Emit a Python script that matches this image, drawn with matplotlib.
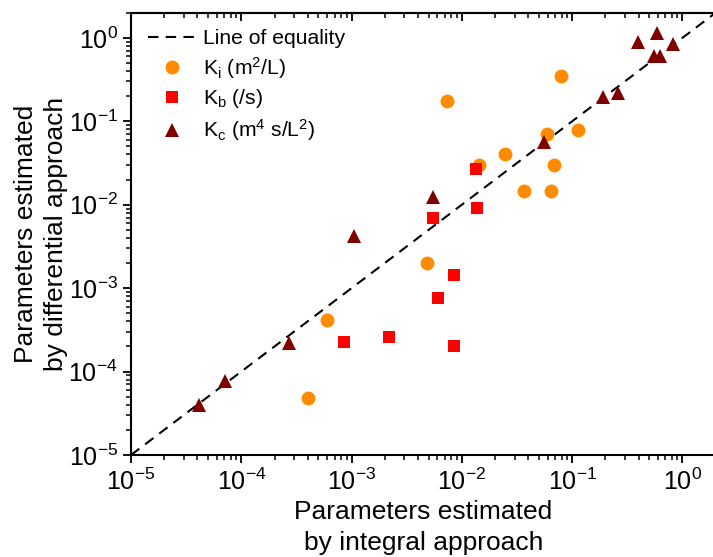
import numpy as np
import matplotlib
matplotlib.use("Agg")
import matplotlib.pyplot as plt
from matplotlib.ticker import LogLocator, NullFormatter

plt.rcParams['font.family'] = ['Liberation Sans', 'DejaVu Sans']
plt.rcParams['mathtext.fontset'] = 'custom'
plt.rcParams['mathtext.rm'] = 'Liberation Sans'
plt.rcParams['mathtext.it'] = 'Liberation Sans:italic'

# Ki (m2/L): integral vs differential estimates
ki_int = [4.0e-4, 6.0e-4, 4.8e-3, 7.4e-3, 0.0144, 0.0247, 0.0366, 0.0594, 0.0647, 0.0689, 0.0787, 0.112]
ki_diff = [4.8e-5, 4.1e-4, 2.0e-3, 0.176, 0.030, 0.0407, 0.0147, 0.0713, 0.0147, 0.0297, 0.348, 0.078]

# Kb (/s)
kb_int = [8.6e-4, 2.2e-3, 8.4e-3, 6.1e-3, 8.4e-3, 5.5e-3, 0.0137, 0.0134]
kb_diff = [2.25e-4, 2.6e-4, 2.0e-4, 7.6e-4, 1.45e-3, 6.9e-3, 9.1e-3, 0.0266]

# Kc (m4 s/L2)
kc_int = [4.1e-5, 7.1e-5, 2.7e-4, 1.06e-3, 5.5e-3, 0.0555, 0.19, 0.26, 0.393, 0.583, 0.826, 0.552, 0.625]
kc_diff = [4.0e-5, 7.7e-5, 2.2e-4, 4.2e-3, 0.0123, 0.0568, 0.197, 0.22, 0.90, 1.13, 0.85, 0.605, 0.60]

lims = [1e-5, 2]

fig = plt.figure(figsize=(7.13, 5.57), dpi=100)
ax = fig.add_axes([131 / 713, 102 / 557, 584.7 / 713, 442.3 / 557])

ax.plot(lims, lims, color='black', lw=1.5, ls=(0, (5, 3.5)), label='Line of equality', zorder=2)
ax.plot(ki_int, ki_diff, ls='none', marker='o', ms=10, mew=0, color='#FF8C00',
        label=r'$\mathregular{K_i\ (m^2/L)}$', zorder=3)
ax.plot(kb_int, kb_diff, ls='none', marker='s', ms=8.5, mew=0, color='#FF0000',
        label=r'$\mathregular{K_b\ (/s)}$', zorder=4)
ax.plot(kc_int, kc_diff, ls='none', marker='^', ms=10.5, mew=0, color='#800000',
        label=r'$\mathregular{K_c\ (m^4\ s/L^2)}$', zorder=5)

ax.set_xscale('log')
ax.set_yscale('log')
ax.set_xlim(lims)
ax.set_ylim(lims)

for a in (ax.xaxis, ax.yaxis):
    a.set_major_locator(LogLocator(base=10, numticks=10))
    a.set_minor_locator(LogLocator(base=10, subs=np.arange(2, 10), numticks=20))
    a.set_minor_formatter(NullFormatter())

for s in ax.spines.values():
    s.set_linewidth(1.5)
ax.spines['right'].set_visible(False)

ax.tick_params(axis='both', which='major', direction='out', length=6, width=1.3, labelsize=18)
ax.tick_params(axis='both', which='minor', direction='out', length=3.5, width=1.1)

# inward ticks along the top edge
top = ax.secondary_xaxis('top')
top.xaxis.set_major_locator(LogLocator(base=10, numticks=10))
top.xaxis.set_minor_locator(LogLocator(base=10, subs=np.arange(2, 10), numticks=20))
top.xaxis.set_major_formatter(NullFormatter())
top.xaxis.set_minor_formatter(NullFormatter())
top.spines['top'].set_linewidth(1.5)
top.tick_params(which='major', direction='in', length=6, width=1.3)
top.tick_params(which='minor', direction='in', length=3.5, width=1.1)

ax.set_xlabel('Parameters estimated\nby integral approach', fontsize=19, labelpad=4,
              linespacing=1.35)
ax.set_ylabel('Parameters estimated\nby differential approach', fontsize=19, labelpad=0,
              linespacing=1.35)

ax.legend(loc='upper left', bbox_to_anchor=(0.029, 0.963), frameon=False, fontsize=15.2,
          borderpad=0, borderaxespad=0, handlelength=2.3, handletextpad=0.3,
          labelspacing=0.32, numpoints=1)

fig.savefig('out.png', dpi=100)
